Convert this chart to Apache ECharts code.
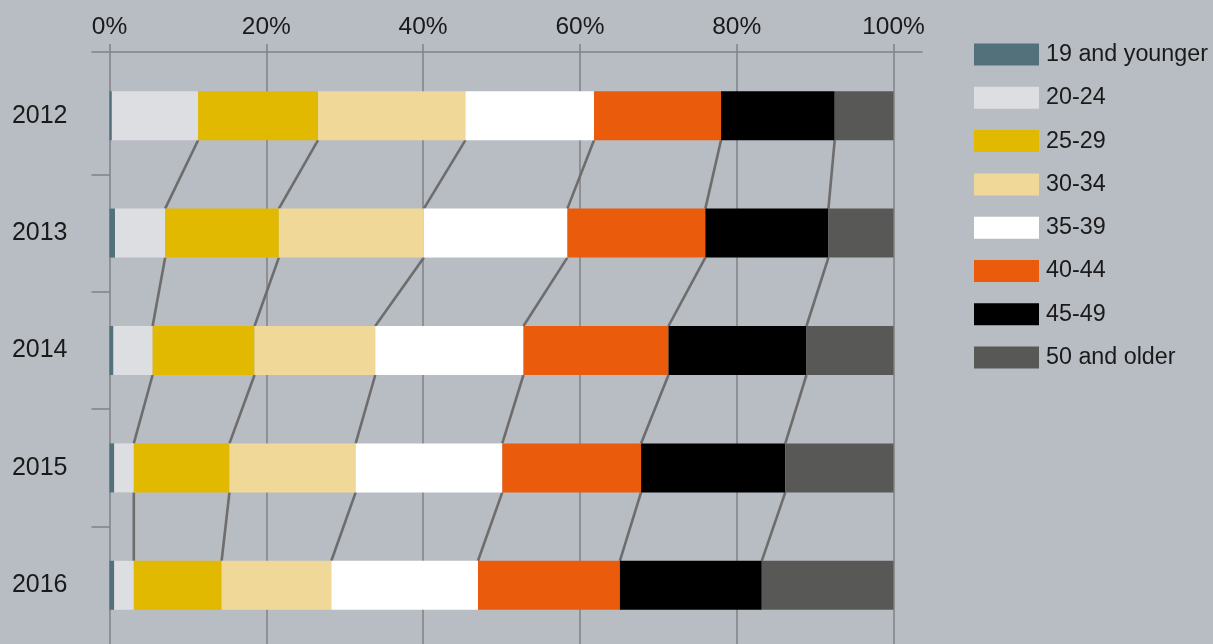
<!DOCTYPE html>
<html>
<head>
<meta charset="utf-8">
<script src="https://cdn.jsdelivr.net/npm/echarts@6/dist/echarts.min.js"></script>
<style>
html,body{margin:0;padding:0;background:#b8bcc3;}
#chart{width:1213px;height:644px;}
</style>
</head>
<body>
<div id="chart"></div>
<script>
const years = ['2012', '2013', '2014', '2015', '2016'];
const groups = ['19 and younger', '20-24', '25-29', '30-34', '35-39', '40-44', '45-49', '50 and older'];
const s19 = [0.3, 0.7, 0.5, 0.6, 0.6];
const s20 = [11.0, 6.4, 5.0, 2.5, 2.5];
const s25 = [15.3, 14.5, 13.0, 12.2, 11.2];
const s30 = [18.8, 18.5, 15.4, 16.1, 14.0];
const s35 = [16.4, 18.3, 18.9, 18.7, 18.7];
const s40 = [16.2, 17.6, 18.5, 17.7, 18.1];
const s45 = [14.5, 15.7, 17.6, 18.4, 18.1];
const s50 = [7.5, 8.3, 11.1, 13.8, 16.8];
const xTickValues = [0, 20, 40, 60, 80, 100];

const seriesValues = [s19, s20, s25, s30, s35, s40, s45, s50];
const colors = ['#52717b', '#dcdee2', '#e1b900', '#f0d898', '#ffffff', '#ea5b0c', '#000000', '#585856'];

// cumulative boundaries per year
const cum = years.map((y, i) => {
  let t = 0;
  return seriesValues.map(s => (t += s[i]));
});
// connector data: boundaries after 20-24 ... 45-49 (indices 1..6)
const connData = [];
for (let i = 0; i < years.length - 1; i++) {
  for (let k = 1; k <= 6; k++) {
    connData.push([cum[i][k], i, cum[i + 1][k]]);
  }
}
// separator ticks between year bands
const bandTicks = years.slice(1).map((y, i) => i + 1);

const BAR = 49;
const gridColor = '#808284';
const textColor = '#1a1a1a';
const font = 'Liberation Sans';

const chart = echarts.init(document.getElementById('chart'));
const series = groups.map((g, j) => ({
  name: g,
  type: 'bar',
  stack: 'total',
  xAxisIndex: 0,
  yAxisIndex: 0,
  barWidth: BAR,
  z: 3,
  itemStyle: { color: colors[j] },
  data: seriesValues[j]
}));
series.push({
  type: 'custom',
  xAxisIndex: 0,
  yAxisIndex: 0,
  z: 2,
  silent: true,
  encode: { x: [0, 2], y: 1 },
  data: connData,
  renderItem: function (params, api) {
    const i = api.value(1);
    const p1 = api.coord([api.value(0), i]);
    const p2 = api.coord([api.value(2), i + 1]);
    return {
      type: 'line',
      shape: { x1: p1[0], y1: p1[1] + BAR / 2, x2: p2[0], y2: p2[1] - BAR / 2 },
      style: { stroke: '#6d6d6d', lineWidth: 2.6 }
    };
  }
});

chart.setOption({
  animation: false,
  backgroundColor: '#b8bcc3',
  textStyle: { fontFamily: font },
  legend: {
    orient: 'vertical',
    left: 974,
    top: 43,
    padding: 0,
    itemWidth: 65,
    itemHeight: 22,
    itemGap: 20.3,
    icon: 'rect',
    data: groups,
    selectedMode: false,
    textStyle: { fontSize: 23.3, color: textColor, fontFamily: font, lineHeight: 22, padding: [0, 0, 0, 2] }
  },
  grid: [
    { left: 109.5, width: 784, top: 57, bottom: 0, containLabel: false },
    { left: 92, width: 830, top: 51, height: 1, containLabel: false }
  ],
  xAxis: [
    {
      gridIndex: 0,
      type: 'value',
      position: 'top',
      min: xTickValues[0],
      max: xTickValues[xTickValues.length - 1],
      interval: xTickValues[1] - xTickValues[0],
      axisLine: { show: false },
      axisTick: { show: true, length: 13, lineStyle: { color: gridColor, width: 1.5 } },
      axisLabel: { margin: 17, fontSize: 24.5, color: textColor, fontFamily: font, formatter: '{value}%' },
      splitLine: { show: true, lineStyle: { color: gridColor, width: 1.5 } }
    },
    {
      gridIndex: 1,
      type: 'value',
      position: 'top',
      min: 0,
      max: 1,
      axisLine: { show: true, lineStyle: { color: gridColor, width: 1.5 } },
      axisTick: { show: false },
      axisLabel: { show: false },
      splitLine: { show: false }
    }
  ],
  yAxis: [
    {
      gridIndex: 0,
      type: 'category',
      position: 'left',
      inverse: true,
      data: years,
      axisLine: { show: false },
      axisTick: { show: false },
      axisLabel: { margin: 42, fontSize: 25, color: textColor, fontFamily: font },
      splitLine: { show: false }
    },
    { gridIndex: 1, type: 'value', show: false },
    {
      gridIndex: 0,
      type: 'value',
      position: 'left',
      inverse: true,
      min: 0,
      max: years.length,
      interval: 1,
      axisLine: { show: false },
      axisTick: { show: true, length: 18, customValues: bandTicks, lineStyle: { color: gridColor, width: 1.5 } },
      axisLabel: { show: false },
      splitLine: { show: false }
    }
  ],
  series: series
});
</script>
</body>
</html>
